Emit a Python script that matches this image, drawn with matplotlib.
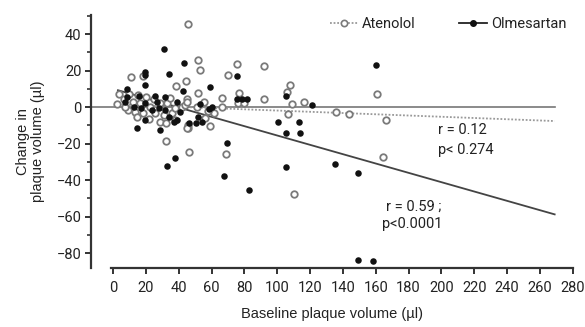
import matplotlib
matplotlib.use('Agg')
import matplotlib.pyplot as plt
from matplotlib.lines import Line2D
from matplotlib.ticker import MultipleLocator
import numpy as np

#------------------------------------------------------------------------------
# Data (baseline volume, change in volume)
#------------------------------------------------------------------------------
aten_x = [45.6, 11.1, 18.3, 38.3, 44.6, 3.8, 9.5, 15.2, 20.1, 6.5, 2.4, 11.9,
          16.6, 9.1, 13.6, 22.7, 28.8, 32.9, 18.0, 25.3, 30.8, 35.9, 37.5,
          42.0, 45.0, 44.0, 28.8, 32.3, 37.9, 45.6, 14.6, 21.7, 7.5, 24.7,
          34.9, 51.7, 53.2, 70.3, 75.3, 92.1, 107.5, 106.1, 109.0, 106.4,
          77.0, 76.3, 79.5, 92.0, 66.1, 66.1, 51.7, 55.7, 51.1, 61.2, 57.8,
          59.2, 56.2, 45.6, 45.0, 32.4, 46.0, 68.8, 110.3, 116.6, 135.7,
          144.0, 166.1, 164.3, 160.6, 45.0]
aten_y = [45.3, 16.3, 17.0, 11.7, 14.4, 7.1, 6.9, 6.6, 5.3, 4.2, 1.6, 2.9,
          2.4, -1.6, -2.6, 0.2, 2.0, 2.4, -3.5, -3.5, -4.4, -3.1, -0.7,
          0.2, 4.2, 1.1, -8.0, -8.6, -7.1, -11.7, -5.6, -6.7, 0.2, 4.2,
          4.8, 25.8, 20.5, 17.7, 23.4, 22.6, 12.1, 8.4, 1.6, -4.0,
          7.8, 2.4, 2.4, 4.2, 5.1, 0.2, 7.5, 2.9, -0.2, -3.3, -2.0,
          -10.4, -6.2, -9.9, -11.7, -18.6, -24.8, -25.8, -47.7, 2.6, -2.9,
          -3.8, -7.1, -27.6, 7.1, 2.9]

olme_x = [19.7, 19.7, 19.2, 34.3, 43.0, 42.4, 8.5, 15.6, 25.7, 31.4, 7.5,
          12.5, 19.7, 23.7, 17.2, 27.8, 31.8, 39.0, 41.0, 33.8, 36.9, 39.0,
          19.7, 14.6, 28.8, 46.0, 8.5, 26.8, 31.0, 33.0, 37.9, 54.2, 52.0,
          50.3, 60.2, 58.5, 59.0, 53.1, 75.3, 75.3, 78.4, 81.5, 69.7, 67.7,
          83.0, 100.3, 105.3, 105.5, 113.0, 114.0, 105.3, 121.5, 135.3,
          149.0, 160.2, 149.5, 158.6]
olme_y = [19.3, 17.5, 12.1, 17.9, 23.9, 8.9, 9.9, 6.0, 6.0, 5.3, 2.9,
          0.2, 2.0, -1.6, -0.7, -0.7, -1.6, 2.9, -2.6, -5.3, -8.0, -7.1,
          -7.1, -11.7, -12.6, -8.9, 5.6, 2.9, 31.8, -32.5, -28.1, -8.0, -5.3,
          -8.9, 0.2, -1.0, 11.1, 1.5, 17.0, 4.4, 4.4, 4.4, -19.9, -37.6,
          -45.5, -8.0, 6.2, -14.1, -8.0, -14.1, -32.7, 0.9, -30.9,
          -36.3, 23.0, -83.5, -84.2]

# regression lines (intercept, slope) and their x range
aten_fit = (1.5, -0.034)
olme_fit = (10.0, -0.2556)
fit_range = (3, 269)

xticks = list(range(0, 281, 20))
yticks = [40, 20, 0, -20, -40, -60, -80]

#------------------------------------------------------------------------------
# Plot
#------------------------------------------------------------------------------
fig = plt.figure(figsize=(5.85, 3.27), dpi=100)
ax = fig.add_axes([0.1556, 0.180, 0.979 - 0.1556, 0.954 - 0.180])

tickfont = 'Roboto'
labfont = 'Liberation Sans'

ax.plot([-13.4, 269], [0, 0], color='#777777', lw=1.2, zorder=1)
xf = np.array(fit_range)
ax.plot(xf, aten_fit[0] + aten_fit[1] * xf, color='#999999', lw=1.3,
        ls=(0, (1, 1)), zorder=1)
ax.plot(xf, olme_fit[0] + olme_fit[1] * xf, color='#444444', lw=1.3, zorder=1)

ax.scatter(aten_x, aten_y, s=22, facecolor='white', edgecolor='#7a7a7a',
           linewidth=1.3, zorder=3)
ax.scatter(olme_x, olme_y, s=22, color='#111111', linewidth=0, zorder=3)

ax.set_xlim(-13.4, 280)
ax.set_ylim(-88.2, 50.4)

for s in ['top', 'right']:
    ax.spines[s].set_visible(False)
for s in ['left', 'bottom']:
    ax.spines[s].set_linewidth(1.6)
    ax.spines[s].set_color('#333333')
ax.spines['bottom'].set_bounds(-1, 280)

ax.set_xticks(xticks)
ax.set_yticks(yticks)
ax.yaxis.set_minor_locator(MultipleLocator(10))
ax.set_yticklabels(['%d' % v if v >= 0 else '\u2212%d' % -v for v in yticks],
                   fontname=tickfont, fontsize=10.5, color='#222222')
ax.set_xticklabels([str(v) for v in xticks], fontname=tickfont,
                   fontsize=10.5, color='#222222')
ax.tick_params(axis='both', which='major', direction='out', length=4,
               width=1.4, color='#333333', pad=3)
ax.tick_params(axis='y', which='minor', direction='out', length=3,
               width=1.2, color='#333333')
ax.tick_params(axis='x', pad=5)

ax.set_xlabel('Baseline plaque volume (\u00b5l)', fontname=labfont,
              fontsize=10.5, color='#222222', labelpad=9)
ax.set_ylabel('Change in\nplaque volume (\u00b5l)', fontname=labfont,
              fontsize=10.5, color='#222222', labelpad=8, linespacing=1.1)

ax.text(198, -12.6, 'r = 0.12', fontname=tickfont, fontsize=10.5,
        va='center', color='#222222')
ax.text(198, -23.6, 'p< 0.274', fontname=tickfont, fontsize=10.5,
        va='center', color='#222222')
ax.text(166, -54.6, 'r = 0.59 ;', fontname=tickfont, fontsize=10.5,
        va='center', color='#222222')
ax.text(163.7, -64.3, 'p<0.0001', fontname=tickfont, fontsize=10.5,
        va='center', color='#222222')

handles = [Line2D([], [], color='#999999', ls=(0, (1, 1)), lw=1.3,
                  marker='o', ms=4.5, mfc='white', mec='#7a7a7a', mew=1.2),
           Line2D([], [], color='#222222', lw=1.3, marker='o', ms=4,
                  mfc='#111111', mec='#111111')]
leg = ax.legend(handles, ['Atenolol', 'Olmesartan'], ncol=2, frameon=False,
                loc='center right', bbox_to_anchor=(1.0, 0.965),
                handlelength=1.9, handletextpad=0.3, columnspacing=3.0,
                prop={'family': tickfont, 'size': 10.5}, borderaxespad=0)
for t in leg.get_texts():
    t.set_color('#222222')

fig.savefig('out.png', dpi=100)
